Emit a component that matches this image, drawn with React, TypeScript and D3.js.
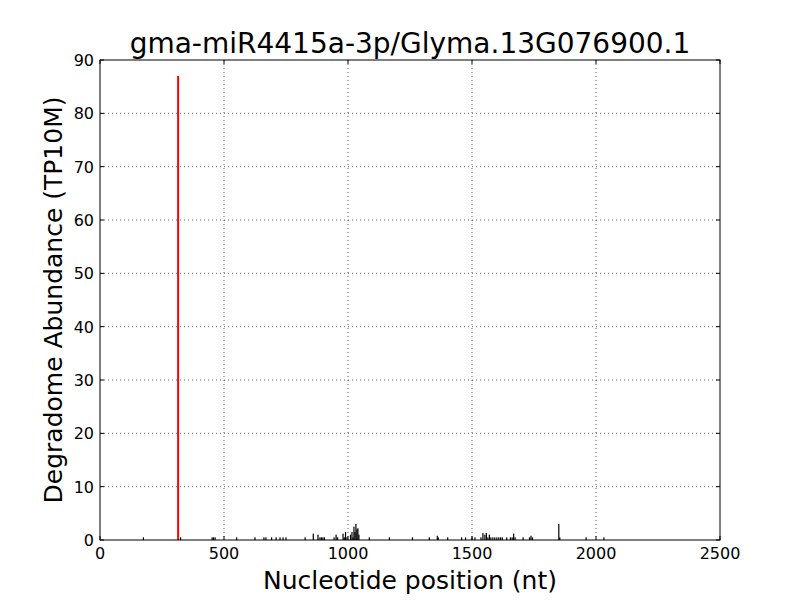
import React from 'react';
import * as d3 from 'd3';

const title = 'gma-miR4415a-3p/Glyma.13G076900.1';
const xTicks = [0, 500, 1000, 1500, 2000, 2500];
const yTicks = [0, 10, 20, 30, 40, 50, 60, 70, 80, 90];

// the miRNA cleavage site
const sitePos = [315];
const siteVal = [87];

// other degradome tags
const tagPos = [175, 325, 452, 458, 464, 551, 625, 661, 669, 692, 710, 726, 738, 750, 827,
  860, 879, 887, 893, 899, 905, 944, 952, 958, 980, 985, 990, 996,
  1010, 1016, 1020, 1024, 1028, 1032, 1036, 1040, 1044, 1086, 1167, 1260, 1328, 1360, 1364,
  1402, 1458, 1474, 1500, 1512, 1536, 1544, 1552, 1558, 1564, 1570, 1576, 1584, 1592, 1600,
  1608, 1615, 1622, 1640, 1655, 1662, 1668, 1674, 1706, 1732, 1738, 1744, 1850, 1854, 1960, 2032];
const tagVal = [0.5, 0.5, 0.5, 0.5, 0.5, 0.5, 0.5, 0.5, 0.5, 0.5, 0.5, 0.5, 0.5, 0.5, 0.5,
  1.2, 1.0, 0.5, 0.5, 0.5, 0.5, 0.5, 1.0, 0.5, 1.2, 0.5, 1.5, 0.5,
  1.0, 1.5, 0.5, 2.5, 1.5, 3.0, 2.0, 2.2, 1.0, 0.5, 0.5, 0.5, 0.5, 0.8, 0.5,
  0.5, 0.5, 0.5, 0.5, 0.5, 0.5, 1.3, 1.0, 1.3, 0.5, 1.0, 0.5, 0.5, 0.5, 0.5,
  0.5, 0.5, 0.5, 0.5, 0.5, 0.5, 1.2, 0.5, 0.5, 0.5, 0.8, 0.5, 3.0, 0.5, 0.5, 0.5];

const W = 800, H = 600;
const m = { left: 100, right: 720, top: 60, bottom: 540 };
const font = 'DejaVu Sans, sans-serif';

export default function App() {
  const x = d3.scaleLinear().domain([0, 2500]).range([m.left, m.right]);
  const y = d3.scaleLinear().domain([0, 90]).range([m.bottom, m.top]);
  const tick = 4;

  return (
    <svg width={W} height={H} style={{ position: 'absolute', left: 0, top: 0, background: '#fff' }}>
      <rect x={0} y={0} width={W} height={H} fill="#fff" />
      {/* grid */}
      {xTicks.slice(1, -1).map(t => (
        <line key={'gx' + t} x1={x(t)} x2={x(t)} y1={m.top} y2={m.bottom}
          stroke="#000" strokeWidth={0.6} strokeDasharray="1,3" />
      ))}
      {yTicks.slice(1, -1).map(t => (
        <line key={'gy' + t} x1={m.left} x2={m.right} y1={y(t)} y2={y(t)}
          stroke="#000" strokeWidth={0.6} strokeDasharray="1,3" />
      ))}
      {/* bars */}
      {tagPos.map((p, i) => (
        <rect key={'b' + i} x={x(p) - 0.6} width={1.2} y={y(tagVal[i])}
          height={y(0) - y(tagVal[i])} fill="#000" />
      ))}
      {sitePos.map((p, i) => (
        <rect key={'r' + i} x={x(p) - 1} width={2} y={y(siteVal[i])}
          height={y(0) - y(siteVal[i])} fill="#ff0000" />
      ))}
      {/* ticks on all sides, pointing in */}
      {xTicks.map(t => (
        <g key={'tx' + t}>
          <line x1={x(t)} x2={x(t)} y1={m.bottom} y2={m.bottom - tick} stroke="#000" />
          <line x1={x(t)} x2={x(t)} y1={m.top} y2={m.top + tick} stroke="#000" />
          <text x={x(t)} y={m.bottom + 19} textAnchor="middle" fontFamily={font} fontSize={16}>{t}</text>
        </g>
      ))}
      {yTicks.map(t => (
        <g key={'ty' + t}>
          <line x1={m.left} x2={m.left + tick} y1={y(t)} y2={y(t)} stroke="#000" />
          <line x1={m.right} x2={m.right - tick} y1={y(t)} y2={y(t)} stroke="#000" />
          <text x={m.left - 6} y={y(t) + 6} textAnchor="end" fontFamily={font} fontSize={16}>{t}</text>
        </g>
      ))}
      <rect x={m.left} y={m.top} width={m.right - m.left} height={m.bottom - m.top}
        fill="none" stroke="#000" strokeWidth={1} />
      <text x={410} y={53} textAnchor="middle" fontFamily={font} fontSize={28}>{title}</text>
      <text x={410} y={589} textAnchor="middle" fontFamily={font} fontSize={25}>Nucleotide position (nt)</text>
      <text transform={`translate(62,300) rotate(-90)`} textAnchor="middle" fontFamily={font} fontSize={25}>
        Degradome Abundance (TP10M)
      </text>
    </svg>
  );
}
